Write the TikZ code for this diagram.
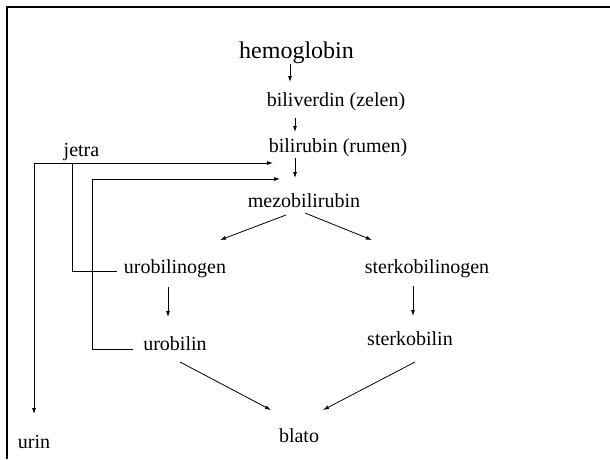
\documentclass[tikz,border=0pt]{standalone}
\usepackage{fontspec}
\setmainfont{Liberation Serif}
\usetikzlibrary{arrows.meta,calc}
\begin{document}
\begin{tikzpicture}[x=1pt,y=-1pt,
  lbl/.style={anchor=base,inner sep=0pt,font=\fontsize{20}{24}\selectfont},
  arr/.style={-{Latex[length=6pt,width=4pt]},line width=0.8pt},
  ln/.style={line width=0.8pt}]
\useasboundingbox (0,0) rectangle (610,459);
\draw[line width=2.6pt] (7,459) -- (7,7) -- (610,7);
\node[lbl,font=\fontsize{24}{28}\selectfont] (hemo) at (296.5,58) {hemoglobin};
\node[lbl] (biliv) at (336,106) {biliverdin (zelen)};
\node[lbl] (bilir) at (338,152) {bilirubin (rumen)};
\node[lbl] (mezo) at (304,207) {mezobilirubin};
\node[lbl] (jetra) at (81.5,156) {jetra};
\node[lbl] (urog) at (175,273) {urobilinogen};
\node[lbl] (urob) at (175,350) {urobilin};
\node[lbl] (sterg) at (427,273) {sterkobilinogen};
\node[lbl] (sterk) at (410,345) {sterkobilin};
\node[lbl] (blato) at (299,442.5) {blato};
\node[lbl] (urin) at (34,448) {urin};
\coordinate (jx) at ($(jetra.base)+(-47.5,7)$);
\draw[arr] ($(hemo.base)+(-6.5,6)$) -- ($(biliv.base)+(-46,-24)$);
\draw[arr] ($(biliv.base)+(-41,12)$) -- ($(bilir.base)+(-43,-20)$);
\draw[arr] ($(bilir.base)+(-43,6)$) -- ($(mezo.base)+(-9,-29)$);
\draw[arr] ($(mezo.base)+(-18,8)$) -- ($(urog.base)+(45,-33)$);
\draw[arr] ($(mezo.base)+(1,6)$) -- ($(sterg.base)+(-55,-33)$);
\draw[arr] ($(urog.base)+(-7,14)$) -- ($(urob.base)+(-7,-33)$);
\draw[arr] ($(sterg.base)+(-14,13)$) -- ($(sterk.base)+(3,-29)$);
\draw[arr] ($(urob.base)+(5,12)$) -- ($(blato.base)+(-28,-32.5)$);
\draw[arr] ($(sterk.base)+(5,17)$) -- ($(blato.base)+(24,-32.5)$);
\draw[ln] ($(urog.base)+(-58,-2)$) -| ($(jetra.base)+(-9.5,7)$);
\draw[arr] (jx) -- ($(mezo.base)+(-31,-44)$);
\draw[arr] (jx) -- ($(urin.base)+(0,-34)$);
\draw[arr] ($(urob.base)+(-42,-1)$) -| ($(jetra.base)+(10.5,23)$) -- ($(mezo.base)+(-24,-28)$);
\end{tikzpicture}
\end{document}
